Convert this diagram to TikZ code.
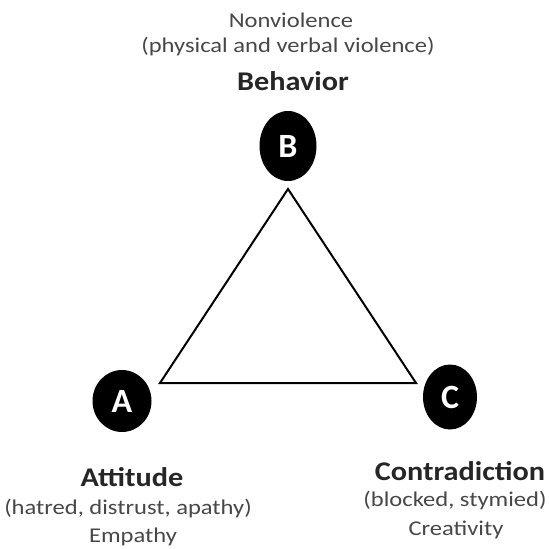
\documentclass[tikz,border=0pt]{standalone}
\usepackage{fontspec}
\setmainfont{Carlito}
\usetikzlibrary{shapes.geometric}
\newcommand{\widesub}[1]{\scalebox{1.17}[1]{#1}}
\newcommand{\widetitle}[1]{\scalebox{1.12}[1]{#1}}
\begin{document}
\begin{tikzpicture}[x=1pt,y=-1pt,
  vert/.style={ellipse,fill=black,text=white,font=\fontsize{34}{34}\selectfont\bfseries,inner sep=0pt},
  title/.style={font=\fontsize{27}{27}\selectfont\bfseries,text=black!85,inner sep=0pt},
  sub/.style={font=\fontsize{21}{21}\selectfont,text=black!72,inner sep=0pt},
  side/.style={line width=2pt}]
\useasboundingbox (0,0) rectangle (549,549);
\node[vert,minimum width=57pt,minimum height=70pt] (B) at (288,146) {B};
\node[vert,minimum width=59pt,minimum height=62pt] (A) at (122,401) {A};
\node[vert,minimum width=54pt,minimum height=65pt] (C) at (450,397) {C};
\coordinate (tb) at (288,189);
\coordinate (tl) at (160,383);
\coordinate (tr) at (416,383);
\draw[side,line join=miter] (tb) -- (tl) -- (tr) -- cycle;
\node[sub] (nv) at (291,20) {\widesub{Nonviolence}};
\node[sub] (pv) at (288,47) {\widesub{(physical and verbal violence)}};
\node[title] (bt) at (293,81) {\widetitle{Behavior}};
\node[title] (at) at (132,477) {\widetitle{Attitude}};
\node[sub] (ah) at (128,509) {\widesub{(hatred, distrust, apathy)}};
\node[sub] (ae) at (133,537) {\widesub{Empathy}};
\node[title] (ct) at (460,471) {\widetitle{Contradiction}};
\node[sub] (cb) at (455,501) {\widesub{(blocked, stymied)}};
\node[sub] (cc) at (456,530) {\widesub{Creativity}};
\end{tikzpicture}
\end{document}
